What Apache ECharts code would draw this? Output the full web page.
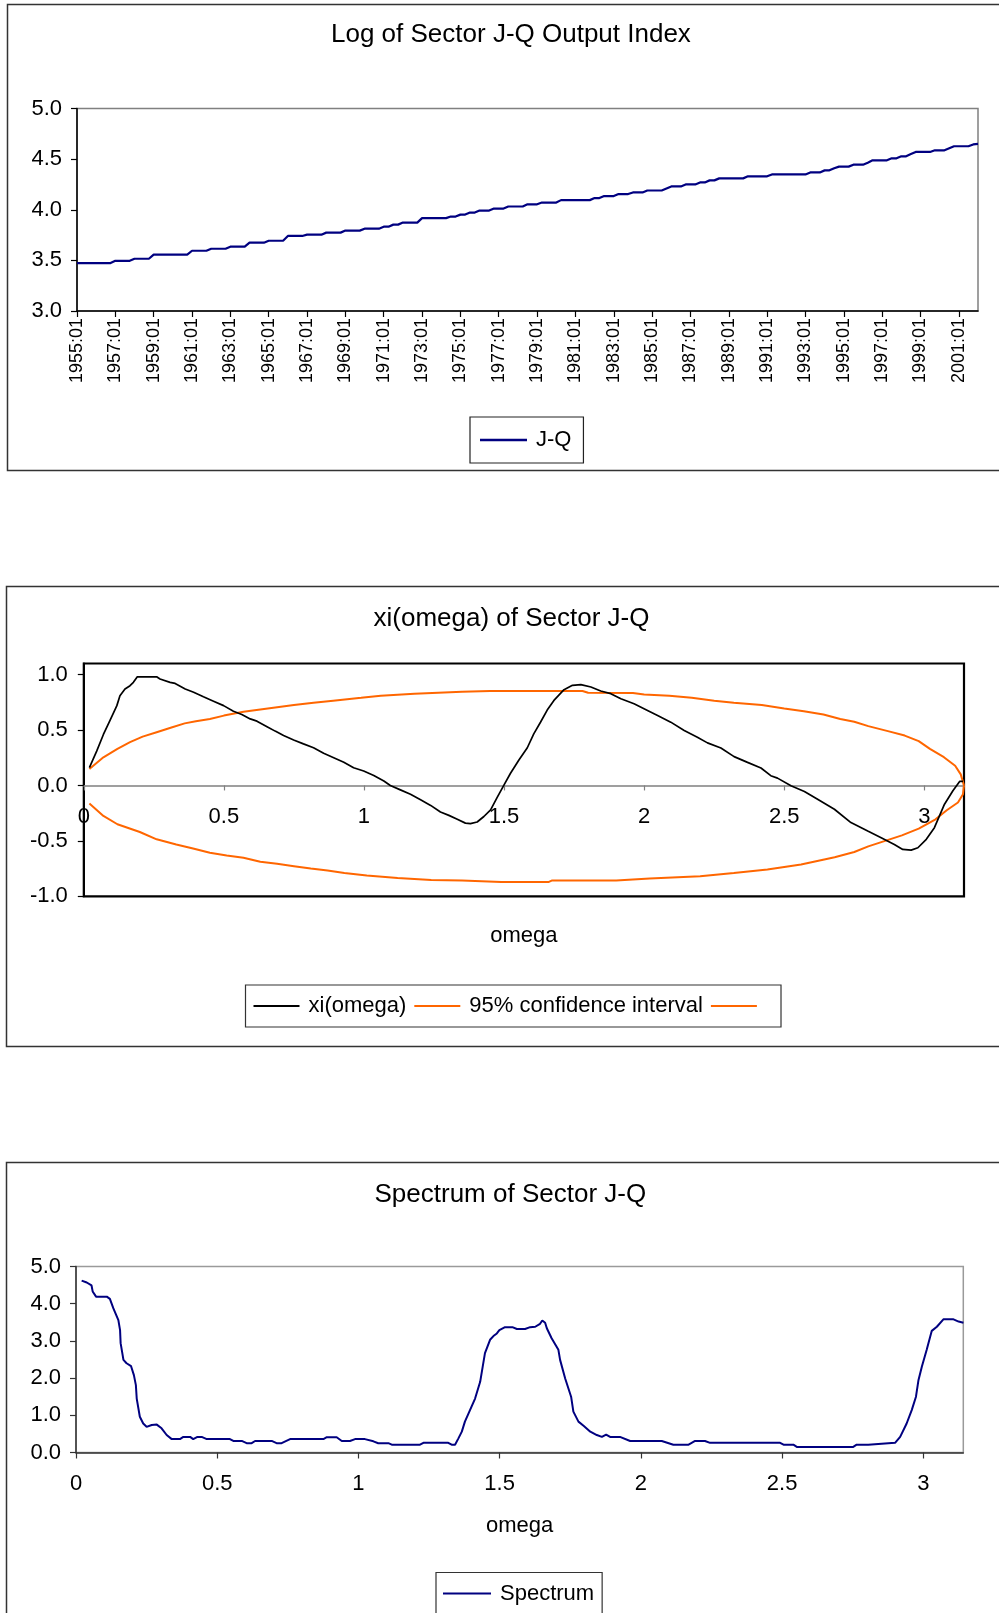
<!DOCTYPE html>
<html>
<head>
<meta charset="utf-8">
<script src="https://cdn.jsdelivr.net/npm/echarts@6/dist/echarts.min.js"></script>
<style>
html,body{margin:0;padding:0;background:#fff;}
#c{width:999px;height:1613px;}
</style>
</head>
<body>
<div id="c"></div>
<script>
// ---------- Chart 1: Log of Sector J-Q Output Index (quarterly 1955:01 - 2002:01) ----------
const jqStartYear = 1955;
const jqCount = 189;
const jqCategories = [];
for (let i = 0; i < jqCount; i++) {
  jqCategories.push((jqStartYear + Math.floor(i / 4)) + ':0' + (i % 4 + 1));
}
const jqValues = [
  3.473,3.473,3.473,3.473, 3.473,3.473,3.473,3.473, 3.496,3.496,3.496,3.496, 3.516,3.516,3.516,3.516,
  3.556,3.556,3.556,3.556, 3.556,3.556,3.556,3.556, 3.595,3.595,3.595,3.595, 3.615,3.615,3.615,3.615,
  3.635,3.635,3.635,3.635, 3.675,3.675,3.675,3.675, 3.694,3.694,3.694,3.694, 3.741,3.741,3.741,3.741,
  3.754,3.754,3.754,3.754, 3.774,3.774,3.774,3.774, 3.794,3.794,3.794,3.794, 3.813,3.813,3.813,3.813,
  3.833,3.833,3.853,3.853, 3.873,3.873,3.873,3.873, 3.917,3.917,3.917,3.917, 3.917,3.917,3.933,3.933,
  3.952,3.952,3.972,3.972, 3.992,3.992,3.992,4.012, 4.012,4.012,4.032,4.032, 4.032,4.032,4.054,4.054,
  4.054,4.071,4.071,4.071, 4.071,4.095,4.095,4.095, 4.095,4.095,4.095,4.095, 4.115,4.115,4.135,4.135,
  4.135,4.155,4.155,4.155, 4.171,4.171,4.171,4.190, 4.190,4.190,4.190,4.210, 4.230,4.230,4.230,4.250,
  4.250,4.250,4.270,4.270, 4.290,4.290,4.310,4.310, 4.310,4.310,4.310,4.310, 4.330,4.330,4.330,4.330,
  4.330,4.349,4.349,4.349, 4.349,4.349,4.349,4.349, 4.349,4.369,4.369,4.369, 4.389,4.389,4.410,4.426,
  4.426,4.426,4.445,4.445, 4.445,4.465,4.488,4.488, 4.488,4.488,4.508,4.508, 4.528,4.528,4.550,4.571,
  4.571,4.571,4.571,4.587, 4.587,4.587,4.607,4.627, 4.627,4.627,4.627,4.645, 4.651
];

// ---------- Chart 2: xi(omega) of Sector J-Q ----------
const omegaMax = 3.1416;
const omegaTicks = [0, 0.5, 1, 1.5, 2, 2.5, 3];
const xiYTicks = [-1, -0.5, 0, 0.5, 1];
const xiOmega = [0.02,0.046,0.07,0.094,0.118,0.129,0.147,0.165,0.177,0.191,0.213,0.26,0.272,0.308,0.326,0.362,0.392,0.427,0.463,0.499,0.534,0.564,0.594,0.618,0.654,0.683,0.713,0.749,0.784,0.82,0.856,0.892,0.928,0.963,0.999,1.035,1.071,1.094,1.13,1.166,1.202,1.238,1.273,1.303,1.333,1.362,1.38,1.404,1.428,1.452,1.475,1.499,1.523,1.553,1.583,1.606,1.63,1.654,1.678,1.714,1.744,1.774,1.81,1.845,1.881,1.917,1.964,2.012,2.048,2.095,2.143,2.19,2.226,2.274,2.321,2.369,2.417,2.452,2.476,2.524,2.572,2.619,2.679,2.738,2.798,2.846,2.893,2.923,2.953,2.977,3.007,3.036,3.072,3.102,3.126,3.138];
const xiValues = [0.16,0.31,0.46,0.59,0.72,0.81,0.87,0.90,0.93,0.98,0.98,0.98,0.96,0.93,0.92,0.87,0.84,0.80,0.76,0.72,0.67,0.64,0.60,0.58,0.53,0.49,0.45,0.41,0.375,0.34,0.29,0.25,0.21,0.16,0.13,0.09,0.04,0.0,-0.04,-0.08,-0.13,-0.18,-0.24,-0.27,-0.305,-0.34,-0.345,-0.33,-0.28,-0.22,-0.11,0.0,0.11,0.23,0.34,0.465,0.57,0.68,0.767,0.864,0.903,0.909,0.888,0.852,0.828,0.782,0.737,0.677,0.631,0.571,0.495,0.435,0.384,0.338,0.26,0.208,0.157,0.088,0.066,-0.003,-0.054,-0.124,-0.215,-0.335,-0.411,-0.471,-0.532,-0.577,-0.583,-0.562,-0.486,-0.381,-0.169,-0.048,0.036,0.036];
const ciUpperOmega = [0.02,0.07,0.12,0.165,0.21,0.26,0.31,0.36,0.40,0.45,0.50,0.57,0.63,0.69,0.75,0.82,0.89,0.99,1.06,1.18,1.35,1.45,1.60,1.78,1.80,1.96,2.00,2.09,2.17,2.25,2.32,2.42,2.50,2.57,2.64,2.70,2.75,2.80,2.87,2.93,2.98,3.02,3.07,3.11,3.13,3.1416];
const ciUpper = [0.148,0.254,0.33,0.39,0.44,0.48,0.52,0.56,0.58,0.60,0.63,0.665,0.685,0.705,0.725,0.745,0.765,0.79,0.81,0.828,0.845,0.852,0.852,0.852,0.836,0.834,0.82,0.81,0.79,0.765,0.745,0.725,0.695,0.67,0.64,0.60,0.575,0.535,0.49,0.45,0.40,0.33,0.255,0.178,0.10,0.0];
const ciLowerOmega = [0.02,0.07,0.12,0.20,0.26,0.33,0.39,0.45,0.51,0.57,0.63,0.69,0.75,0.81,0.87,0.93,1.01,1.12,1.24,1.35,1.49,1.66,1.67,1.90,2.02,2.20,2.32,2.44,2.56,2.68,2.75,2.80,2.86,2.92,2.98,3.04,3.08,3.12,3.138,3.1416];
const ciLower = [-0.163,-0.275,-0.35,-0.42,-0.486,-0.532,-0.568,-0.607,-0.631,-0.653,-0.689,-0.707,-0.728,-0.749,-0.767,-0.789,-0.813,-0.834,-0.852,-0.858,-0.870,-0.870,-0.858,-0.858,-0.840,-0.819,-0.789,-0.758,-0.713,-0.647,-0.60,-0.55,-0.50,-0.45,-0.39,-0.305,-0.224,-0.154,-0.079,0.0];

// ---------- Chart 3: Spectrum of Sector J-Q ----------
const specOmega = [0.02,0.038,0.055,0.059,0.071,0.109,0.12,0.132,0.15,0.156,0.158,0.168,0.179,0.195,0.205,0.212,0.215,0.226,0.238,0.25,0.268,0.286,0.303,0.321,0.339,0.368,0.38,0.404,0.415,0.43,0.445,0.463,0.545,0.557,0.587,0.604,0.622,0.634,0.693,0.71,0.728,0.758,0.876,0.888,0.923,0.941,0.97,0.988,1.023,1.053,1.07,1.106,1.118,1.218,1.23,1.318,1.33,1.342,1.354,1.366,1.377,1.395,1.413,1.431,1.44,1.448,1.466,1.478,1.49,1.499,1.519,1.545,1.561,1.59,1.608,1.626,1.643,1.651,1.661,1.667,1.684,1.708,1.714,1.732,1.753,1.761,1.779,1.797,1.821,1.844,1.862,1.877,1.891,1.926,1.962,2.074,2.115,2.169,2.192,2.227,2.245,2.493,2.505,2.54,2.552,2.752,2.764,2.805,2.811,2.9,2.918,2.941,2.959,2.974,2.983,2.995,3.012,3.03,3.048,3.071,3.107,3.125,3.142];
const specValues = [4.62,4.57,4.49,4.33,4.19,4.19,4.13,3.88,3.56,3.29,2.94,2.49,2.40,2.32,2.08,1.81,1.45,0.96,0.78,0.69,0.74,0.75,0.65,0.47,0.36,0.36,0.42,0.42,0.36,0.42,0.42,0.36,0.36,0.31,0.31,0.25,0.25,0.31,0.31,0.25,0.25,0.36,0.36,0.41,0.41,0.31,0.31,0.36,0.36,0.30,0.25,0.25,0.21,0.21,0.26,0.26,0.21,0.21,0.38,0.56,0.83,1.14,1.45,1.90,2.31,2.67,3.03,3.13,3.20,3.29,3.37,3.37,3.32,3.32,3.37,3.38,3.46,3.55,3.49,3.34,3.07,2.76,2.49,1.99,1.50,1.10,0.83,0.72,0.56,0.47,0.42,0.48,0.42,0.42,0.31,0.31,0.21,0.21,0.31,0.31,0.26,0.26,0.21,0.21,0.15,0.15,0.21,0.21,0.26,0.26,0.42,0.78,1.14,1.50,1.95,2.31,2.76,3.27,3.38,3.58,3.58,3.52,3.49];

function pairs(xs, ys) { return xs.map((x, i) => [x, ys[i]]); }

const FONT = "'Liberation Sans', Arial, sans-serif";
const titleStyle = {fontSize: 26, fontWeight: 'normal', color: '#000', lineHeight: 30, fontFamily: FONT};
const legendText = {fontSize: 22, color: '#000', lineHeight: 26, padding: [0, 0, 0, 4], fontFamily: FONT};
const halfStepLabel = v => (Math.abs(v * 2 - Math.round(v * 2)) < 1e-6 ? String(v) : '');

// plot 2 geometry (y range -1 .. 1.1)
const g2Top = 663.5, g2Height = 232.8, g2Min = -1, g2Max = 1.1;
const g2ZeroOffset = g2Height * (0 - g2Min) / (g2Max - g2Min);

const chart = echarts.init(document.getElementById('c'), null, {renderer: 'canvas'});
chart.setOption({
  animation: false,
  backgroundColor: '#fff',
  textStyle: {fontFamily: FONT},
  graphic: [
    {type: 'rect', silent: true, z: 0, shape: {x: 7.5, y: 4.5, width: 1100, height: 466}, style: {fill: 'none', stroke: '#333', lineWidth: 1.5}},
    {type: 'rect', silent: true, z: 0, shape: {x: 6.5, y: 586.5, width: 1100, height: 460}, style: {fill: 'none', stroke: '#333', lineWidth: 1.5}},
    {type: 'rect', silent: true, z: 0, shape: {x: 6.5, y: 1162.5, width: 1100, height: 600}, style: {fill: 'none', stroke: '#333', lineWidth: 1.5}}
  ],
  title: [
    {text: 'Log of Sector J-Q Output Index', left: 331, top: 20, padding: 0, textStyle: titleStyle},
    {text: 'xi(omega) of Sector J-Q', left: 373.5, top: 604, padding: 0, textStyle: titleStyle},
    {text: 'Spectrum of Sector J-Q', left: 374.5, top: 1180, padding: 0, textStyle: titleStyle}
  ],
  legend: [
    {data: ['J-Q'], left: 470, top: 417, orient: 'horizontal', icon: 'rect', itemWidth: 47, itemHeight: 2.5, itemGap: 8,
     padding: [10, 12, 10, 10], borderColor: '#222', borderWidth: 1.2, selectedMode: false, textStyle: legendText},
    {data: ['xi(omega)', '95% confidence interval', ' '], left: 245.5, top: 985, orient: 'horizontal', icon: 'rect', itemWidth: 46, itemHeight: 2.2, itemGap: 8,
     padding: [8, 9, 8, 8], borderColor: '#333', borderWidth: 1.2, selectedMode: false, textStyle: legendText},
    {data: ['Spectrum'], left: 436, top: 1572.5, orient: 'horizontal', icon: 'rect', itemWidth: 48, itemHeight: 2.2, itemGap: 8,
     padding: [8, 8, 10, 7], borderColor: '#333', borderWidth: 1.2, selectedMode: false, textStyle: legendText}
  ],
  grid: [
    {left: 77, top: 108.5, width: 901, height: 202.5, show: true, borderColor: '#808080', borderWidth: 1.5, backgroundColor: 'transparent'},
    {left: 83.8, top: g2Top, width: 880.2, height: g2Height, show: true, borderColor: '#000', borderWidth: 2.2, backgroundColor: 'transparent'},
    {left: 76, top: 1266.5, width: 887.3, height: 186, show: true, borderColor: '#9a9a9a', borderWidth: 1.5, backgroundColor: 'transparent'}
  ],
  xAxis: [
    {gridIndex: 0, type: 'category', data: jqCategories, boundaryGap: false,
     axisLine: {show: true, lineStyle: {color: '#000', width: 1.5}},
     axisTick: {show: true, interval: 7, length: 6, lineStyle: {color: '#000', width: 1.2}},
     axisLabel: {interval: 7, rotate: 90, fontSize: 18, margin: 7, color: '#000', fontFamily: FONT},
     splitLine: {show: false}},
    {gridIndex: 1, type: 'value', min: 0, max: omegaMax, interval: 0.5, position: 'bottom', offset: -g2ZeroOffset,
     axisLine: {show: true, onZero: false, lineStyle: {color: '#808080', width: 1.5}},
     axisTick: {show: true, length: 5, customValues: omegaTicks, lineStyle: {color: '#808080', width: 1.2}},
     axisLabel: {fontSize: 22, margin: 20, color: '#000', customValues: omegaTicks, formatter: halfStepLabel, fontFamily: FONT},
     splitLine: {show: false},
     name: 'omega', nameLocation: 'middle', nameGap: 139, nameMoveOverlap: false,
     nameTextStyle: {fontSize: 22, color: '#000', fontFamily: FONT}},
    {gridIndex: 2, type: 'value', min: 0, max: omegaMax, interval: 0.5,
     axisLine: {show: true, onZero: false, lineStyle: {color: '#333', width: 1.5}},
     axisTick: {show: true, length: 6, customValues: omegaTicks, lineStyle: {color: '#333', width: 1.2}},
     axisLabel: {fontSize: 22, margin: 20, color: '#000', customValues: omegaTicks, formatter: halfStepLabel, fontFamily: FONT},
     splitLine: {show: false},
     name: 'omega', nameLocation: 'middle', nameGap: 62, nameMoveOverlap: false,
     nameTextStyle: {fontSize: 22, color: '#000', fontFamily: FONT}}
  ],
  yAxis: [
    {gridIndex: 0, type: 'value', min: 3, max: 5, interval: 0.5,
     axisLine: {show: true, lineStyle: {color: '#000', width: 1.5}},
     axisTick: {show: true, length: 6, lineStyle: {color: '#000', width: 1.2}},
     axisLabel: {fontSize: 22, margin: 15, color: '#000', formatter: v => v.toFixed(1), fontFamily: FONT},
     splitLine: {show: false}},
    {gridIndex: 1, type: 'value', min: g2Min, max: g2Max, interval: 0.5,
     axisLine: {show: true, onZero: false, lineStyle: {color: '#000', width: 2}},
     axisTick: {show: true, length: 6, customValues: xiYTicks, lineStyle: {color: '#000', width: 1.2}},
     axisLabel: {fontSize: 22, margin: 16, color: '#000', customValues: xiYTicks,
       formatter: v => (Math.abs(v * 2 - Math.round(v * 2)) < 1e-6 ? v.toFixed(1) : ''), fontFamily: FONT},
     splitLine: {show: false}},
    {gridIndex: 2, type: 'value', min: 0, max: 5, interval: 1,
     axisLine: {show: true, lineStyle: {color: '#333', width: 1.5}},
     axisTick: {show: true, length: 6, lineStyle: {color: '#333', width: 1.2}},
     axisLabel: {fontSize: 22, margin: 15, color: '#000', formatter: v => v.toFixed(1), fontFamily: FONT},
     splitLine: {show: false}}
  ],
  series: [
    {name: 'J-Q', type: 'line', xAxisIndex: 0, yAxisIndex: 0, data: jqValues, symbol: 'none',
     color: '#000080', lineStyle: {color: '#000080', width: 2.2}},
    {name: 'xi(omega)', type: 'line', xAxisIndex: 1, yAxisIndex: 1, data: pairs(xiOmega, xiValues), symbol: 'none',
     color: '#000', lineStyle: {color: '#000', width: 1.7}, z: 3},
    {name: '95% confidence interval', type: 'line', xAxisIndex: 1, yAxisIndex: 1, data: pairs(ciUpperOmega, ciUpper), symbol: 'none',
     color: '#FF6600', lineStyle: {color: '#FF6600', width: 2}, z: 2},
    {name: ' ', type: 'line', xAxisIndex: 1, yAxisIndex: 1, data: pairs(ciLowerOmega, ciLower), symbol: 'none',
     color: '#FF6600', lineStyle: {color: '#FF6600', width: 2}, z: 2},
    {name: 'Spectrum', type: 'line', xAxisIndex: 2, yAxisIndex: 2, data: pairs(specOmega, specValues), symbol: 'none',
     color: '#000080', lineStyle: {color: '#000080', width: 2}}
  ]
});
</script>
</body>
</html>
